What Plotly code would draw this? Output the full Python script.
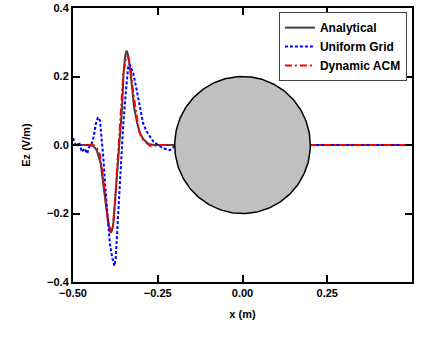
import numpy as np
import plotly.graph_objects as go

# Analytical
ana_x = [-0.50, -0.45, -0.44, -0.43, -0.4185, -0.411, -0.403, -0.396, -0.389, -0.385, -0.381,
         -0.373, -0.366, -0.360, -0.355, -0.351, -0.346, -0.342, -0.338, -0.334, -0.330,
         -0.320, -0.311, -0.3025, -0.293, -0.283, -0.275, -0.26, -0.2, 0.2, 0.5]
ana_y = [0.0, 0.0, -0.003, -0.015, -0.053, -0.112, -0.18, -0.229, -0.256, -0.25, -0.229,
         -0.131, -0.04, 0.03, 0.112, 0.209, 0.26, 0.2755, 0.265, 0.24, 0.209,
         0.112, 0.065, 0.034, 0.018, 0.008, 0.002, 0.0, 0.0, 0.0, 0.0]

# Uniform Grid
uni_x = [-0.500, -0.49, -0.482, -0.474, -0.466, -0.458, -0.452, -0.446, -0.439, -0.433,
         -0.4265, -0.42, -0.4155, -0.411, -0.405, -0.398, -0.391, -0.384, -0.378, -0.374,
         -0.371, -0.3665, -0.3615, -0.3565, -0.3516, -0.3437, -0.337, -0.333, -0.328,
         -0.322, -0.312, -0.3025, -0.293, -0.283, -0.273, -0.263, -0.253, -0.243, -0.234,
         -0.222, -0.214, -0.205, -0.2, 0.2, 0.5]
uni_y = [0.02, -0.005, 0.008, -0.02, -0.01, -0.025, -0.005, 0.0, 0.024, 0.06,
         0.081, 0.07, 0.015, -0.03, -0.12, -0.22, -0.29, -0.33, -0.353, -0.33,
         -0.277, -0.18, -0.083, 0.0, 0.063, 0.16, 0.229, 0.236, 0.225,
         0.209, 0.16, 0.112, 0.063, 0.04, 0.024, 0.01, 0.003, -0.005, -0.01,
         -0.013, -0.015, -0.008, 0.0, 0.0, 0.0]

# Dynamic ACM
acm_x = [-0.50, -0.44, -0.43, -0.42, -0.413, -0.405, -0.398, -0.39, -0.386, -0.382, -0.376,
         -0.37, -0.364, -0.358, -0.352, -0.346, -0.340, -0.335, -0.33, -0.322, -0.314,
         -0.306, -0.298, -0.29, -0.282, -0.27, -0.26, -0.25, -0.2, 0.2, 0.5]
acm_y = [0.0, 0.0, -0.008, -0.03, -0.08, -0.15, -0.21, -0.245, -0.25, -0.235, -0.17,
         -0.07, 0.03, 0.12, 0.2, 0.245, 0.26, 0.25, 0.22, 0.15, 0.09,
         0.045, 0.02, 0.012, 0.005, -0.004, -0.003, 0.0, 0.0, 0.0, 0.0]

# Scatterer (circle) geometry
circle_center = (0.0, 0.0)
circle_radius = 0.2

FONT = "Liberation Sans, Arial, sans-serif"
BLACK = "#000000"

theta = np.linspace(0, 2 * np.pi, 241)
circ_x = circle_center[0] + circle_radius * np.cos(theta)
circ_y = circle_center[1] + circle_radius * np.sin(theta)

fig = go.Figure()
fig.add_trace(go.Scatter(x=ana_x, y=ana_y, mode="lines", name="<b>Analytical</b>",
                         line=dict(color="#404040", width=2)))
fig.add_trace(go.Scatter(x=uni_x, y=uni_y, mode="lines", name="<b>Uniform Grid</b>",
                         line=dict(color="#0000ff", width=2, dash="3px,2px")))
fig.add_trace(go.Scatter(x=acm_x, y=acm_y, mode="lines", name="<b>Dynamic ACM</b>",
                         line=dict(color="#ff0000", width=2, dash="7px,3px,2px,3px")))
fig.add_trace(go.Scatter(x=circ_x, y=circ_y, mode="lines", fill="toself",
                         fillcolor="#c0c0c0", line=dict(color=BLACK, width=1.5),
                         showlegend=False, hoverinfo="skip"))

axis_common = dict(ticks="inside", ticklen=7, tickwidth=2, tickcolor=BLACK,
                   showline=True, linecolor=BLACK, linewidth=2, mirror="allticks",
                   showgrid=False, zeroline=False, automargin=False,
                   tickprefix="<b>", ticksuffix="</b>",
                   tickfont=dict(family=FONT, size=11, color=BLACK))

fig.update_layout(
    template="none",
    width=422, height=343,
    margin=dict(l=73, r=10, t=8, b=61),
    paper_bgcolor="#ffffff", plot_bgcolor="#ffffff",
    font=dict(family=FONT, size=11, color=BLACK),
    showlegend=True,
    legend=dict(x=0.985, y=0.985, xanchor="right", yanchor="top",
                bordercolor="#404040", borderwidth=1, bgcolor="#ffffff",
                font=dict(family=FONT, size=12, color=BLACK),
                tracegroupgap=0, itemwidth=30),
    xaxis=dict(range=[-0.5, 0.5], tickmode="linear", tick0=-0.5, dtick=0.25, tickformat=".2f",
               title=dict(text="<b>x (m)</b>", font=dict(family=FONT, size=11), standoff=12),
               **axis_common),
    yaxis=dict(range=[-0.4, 0.4], tickmode="linear", tick0=-0.4, dtick=0.2, tickformat=".1f",
               title=dict(text="<b>Ez (V/m)</b>", font=dict(family=FONT, size=11), standoff=14),
               **axis_common),
)

fig.write_html("out.html", config={"displayModeBar": False},
               post_script="document.body.style.margin='0';")
